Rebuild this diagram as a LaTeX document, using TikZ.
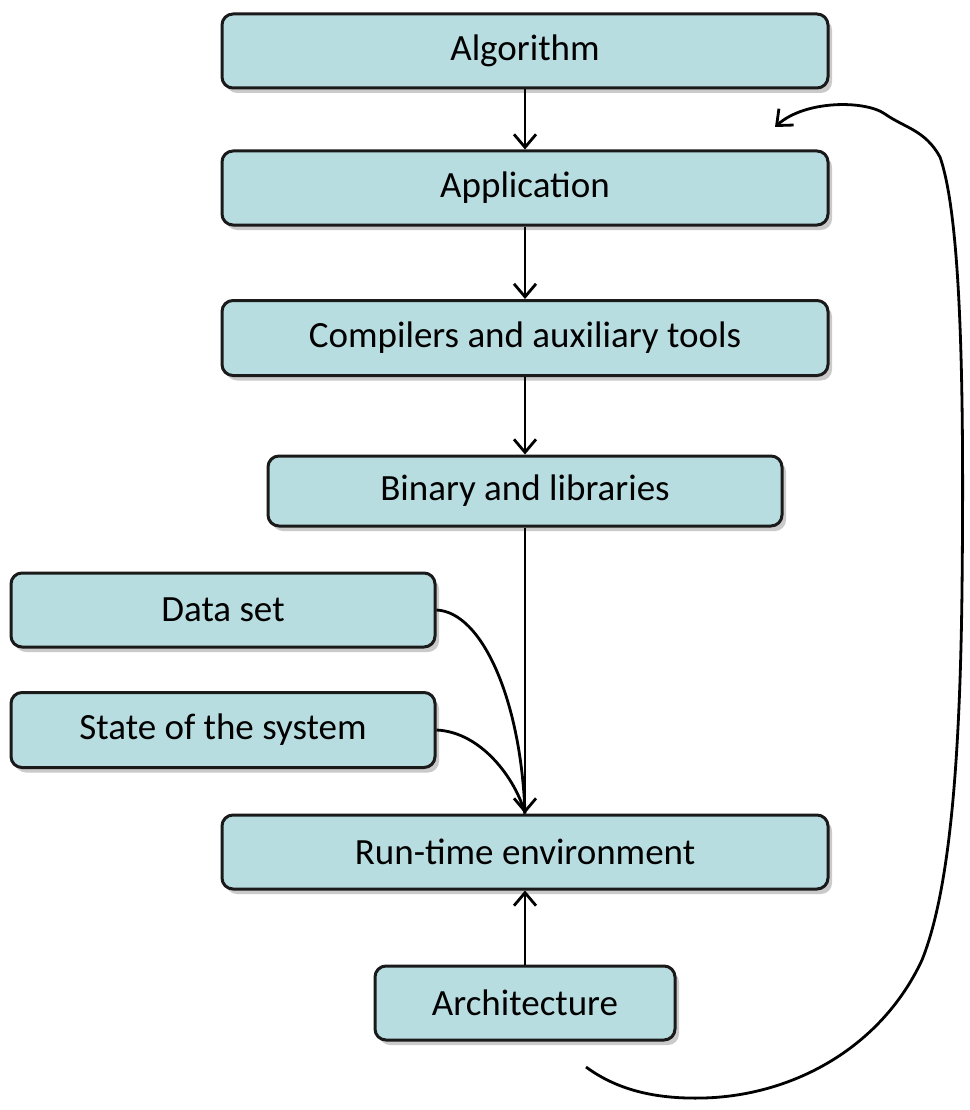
\documentclass[tikz,border=0pt]{standalone}
\usepackage{fontspec}
\setmainfont{Carlito}
\usetikzlibrary{arrows.meta,shadows}
\definecolor{boxfill}{HTML}{B8DDE1}
\definecolor{boxline}{HTML}{1A1A1A}
\tikzset{
  blk/.style={draw=boxline, line width=3pt, fill=boxfill, rounded corners=11pt,
    font=\fontsize{37}{42}\selectfont, text=black, inner sep=0pt,
    drop shadow={shadow xshift=4pt, shadow yshift=-5pt, opacity=0.35, fill=black!60}},
  conn/.style={draw=black, line width=2.8pt, -{Straight Barb[length=13pt,width=22pt,line width=2.8pt]}},
  plainconn/.style={draw=black, line width=2.8pt}
}
\begin{document}
\begin{tikzpicture}[x=1pt,y=-1pt]
\useasboundingbox (0,0) rectangle (969,1110);
\node[blk, minimum width=606pt, minimum height=74pt] (alg) at (525,51) {Algorithm};
\node[blk, minimum width=606pt, minimum height=74pt] (app) at (525,188) {Application};
\node[blk, minimum width=606pt, minimum height=75pt] (comp) at (525,338) {Compilers and auxiliary tools};
\node[blk, minimum width=514pt, minimum height=70pt] (bin) at (525,491) {Binary and libraries};
\node[blk, minimum width=424pt, minimum height=74pt] (data) at (223,610) {Data set};
\node[blk, minimum width=424pt, minimum height=75pt] (state) at (223,730) {State of the system};
\node[blk, minimum width=606pt, minimum height=74pt] (rt) at (525,852) {Run-time environment};
\node[blk, minimum width=300pt, minimum height=74pt] (arch) at (525,1003) {Architecture};

\draw[conn] (alg.south) -- (app.north);
\draw[conn] (app.south) -- (comp.north);
\draw[conn] (comp.south) -- (bin.north);
\draw[conn] (bin.south) -- (rt.north);
\draw[plainconn] (data.east) .. controls (482,612) and (521,700) .. (rt.north);
\draw[plainconn] (state.east) .. controls (482,732) and (516,780) .. (rt.north);
\draw[conn] (arch.north) -- (rt.south);

\coordinate (fs) at (586,1067);
\coordinate (fe) at (775,127);
\draw[conn] (fs) .. controls (620,1092) and (660,1099) .. (703,1098)
  .. controls (790,1096) and (880,1050) .. (922,960)
  .. controls (950,890) and (960,760) .. (962,590)
  .. controls (964,400) and (962,220) .. (940,157)
  .. controls (925,130) and (905,128) .. (885,114)
  .. controls (865,100) and (805,100) .. (fe);
\end{tikzpicture}
\end{document}
